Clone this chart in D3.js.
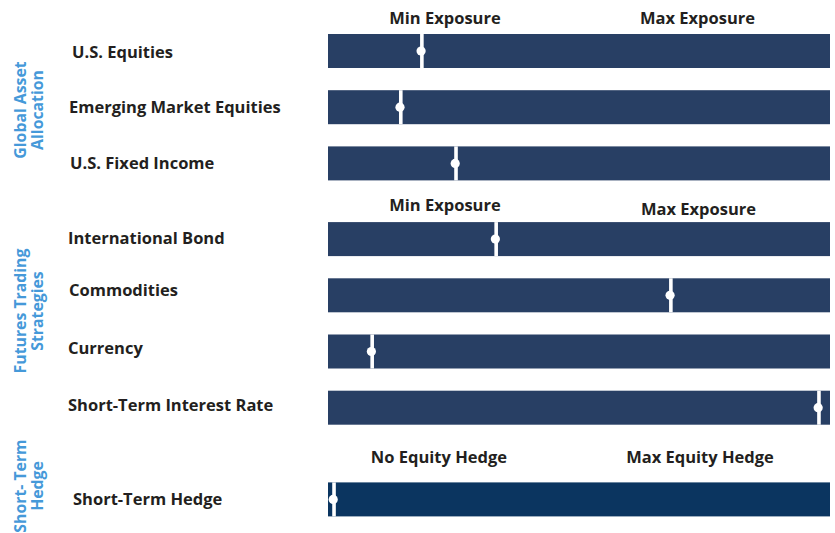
<!DOCTYPE html>
<html>
<head>
<meta charset="utf-8">
<script src="https://cdn.jsdelivr.net/npm/d3@7"></script>
<style>
  body { margin: 0; background: #fff; }
  text { font-family: "Open Sans", sans-serif; font-weight: 700; }
</style>
</head>
<body>
<div id="wrapper"></div>
<script>
// data
const categories = [
  "U.S. Equities",
  "Emerging Market Equities",
  "U.S. Fixed Income",
  "International Bond",
  "Commodities",
  "Currency",
  "Short-Term Interest Rate",
  "Short-Term Hedge"
]
const categoryGroup = [0, 0, 0, 1, 1, 1, 1, 2]
// current position within the min..max range (percent)
const exposure = [18.7, 14.5, 25.5, 33.5, 68.3, 8.8, 97.8, 1.2]
const groupNames = [
  ["Global Asset", "Allocation"],
  ["Futures Trading", "Strategies"],
  ["Short- Term", "Hedge"]
]
const headerLabels = [
  ["Min Exposure", "Max Exposure"],
  ["Min Exposure", "Max Exposure"],
  ["No Equity Hedge", "Max Equity Hedge"]
]

function drawChart() {
  const width = 835
  const height = 533

  const svg = d3.select("#wrapper")
    .append("svg")
      .attr("width", width)
      .attr("height", height)

  const xScale = d3.scaleLinear()
    .domain([0, 100])
    .range([328, 830])

  const barH = 34
  const step = 56.2
  const pad = 1 - barH / step
  const yBand = d3.scaleBand()
    .domain(categories)
    .range([34, 34 + step * (categories.length - pad)])
    .paddingInner(pad)
    .paddingOuter(0)

  // extra space between the groups
  const groupShift = [0, 19.5, 55]
  const barY = (d, i) => yBand(d) + groupShift[categoryGroup[i]]
  const barColor = ["#283f64", "#283f64", "#0b3560"]

  const rows = svg.append("g")
    .selectAll("g")
    .data(categories)
    .join("g")

  rows.append("rect")
    .attr("x", xScale(0))
    .attr("y", (d, i) => barY(d, i))
    .attr("width", xScale(100) - xScale(0))
    .attr("height", barH)
    .attr("fill", (d, i) => barColor[categoryGroup[i]])

  // marker: white line with a dot
  rows.append("rect")
    .attr("x", (d, i) => xScale(exposure[i]) - 1.8)
    .attr("y", (d, i) => barY(d, i))
    .attr("width", 3.6)
    .attr("height", barH)
    .attr("fill", "#fff")

  rows.append("circle")
    .attr("cx", (d, i) => xScale(exposure[i]) - 0.8)
    .attr("cy", (d, i) => barY(d, i) + barH / 2)
    .attr("r", 4.6)
    .attr("fill", "#fff")

  const labelShift = [1, 0, 0, -1, -5, -3, -2, 0]
  const labelX = [72, 69, 70, 68, 69, 68, 68, 73]
  rows.append("text")
    .attr("x", (d, i) => labelX[i])
    .attr("y", (d, i) => barY(d, i) + barH / 2 + labelShift[i])
    .attr("dy", "0.35em")
    .attr("font-size", 16.5)
    .attr("fill", "#231f20")
    .text(d => d)

  // headers above each group
  const headerY = [[18, 18], [205, 209], [457, 457]]
  const headerPos = [[23.3, 73.6], [23.3, 73.8], [22.1, 74.1]]
  headerLabels.forEach((pair, g) => {
    pair.forEach((label, k) => {
      svg.append("text")
        .attr("x", xScale(headerPos[g][k]))
        .attr("y", headerY[g][k])
        .attr("dy", "0.35em")
        .attr("text-anchor", "middle")
        .attr("font-size", 16.5)
        .attr("fill", "#231f20")
        .text(label)
    })
  })

  // rotated group titles
  const groupCenter = [110, 311, 486]
  groupNames.forEach((lines, g) => {
    const t = svg.append("text")
      .attr("transform", `translate(29, ${groupCenter[g]}) rotate(-90)`)
      .attr("text-anchor", "middle")
      .attr("font-size", 15.8)
      .attr("fill", "#4599d9")
    lines.forEach((line, k) => {
      t.append("tspan")
        .attr("x", 0)
        .attr("y", k === 0 ? -3 : 13.5)
        .text(line)
    })
  })
}

drawChart()
</script>
</body>
</html>
